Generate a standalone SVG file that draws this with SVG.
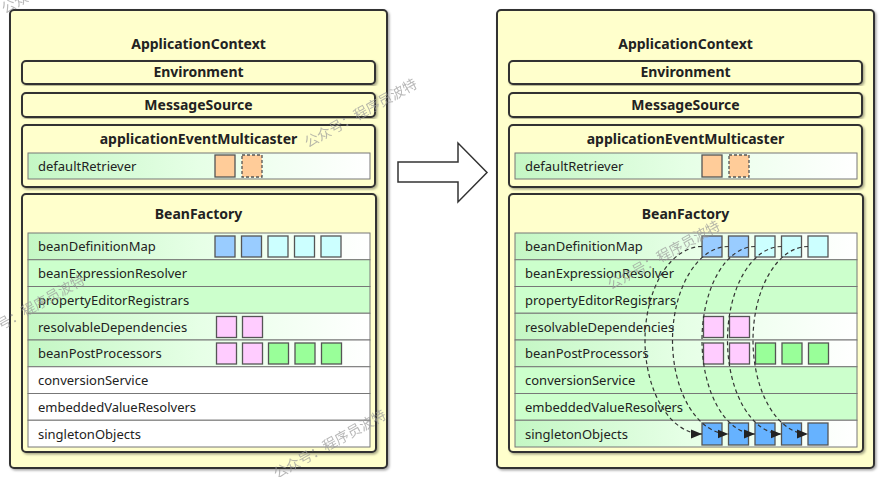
<svg xmlns="http://www.w3.org/2000/svg" width="881" height="477" viewBox="0 0 881 477">
<style>
.outer{fill:#ffffcc;stroke:#333;stroke-width:2;filter:url(#sh)}
.box{fill:#ffffcc;stroke:#333;stroke-width:2;filter:url(#sh)}
.title{font-family:"Noto Sans","Open Sans",sans-serif;font-weight:bold;font-size:14px;fill:#222;text-anchor:middle}
.lbl{font-family:"Noto Sans","Open Sans",sans-serif;font-size:13px;fill:#222}
.rg{fill:url(#gg);stroke:#777;stroke-width:1}
.rs{fill:#ccffcc;stroke:#777;stroke-width:1}
.rw{fill:#ffffff;stroke:#777;stroke-width:1}
.sq{stroke:#555;stroke-width:1.3}
.b1{fill:#99ccff}.b2{fill:#ccffff}.b3{fill:#66b2ff}.pk{fill:#ffccff}.gr{fill:#99ff99}.or{fill:#ffcc99}
.dsh{stroke-dasharray:3 2}
.arc{fill:none;stroke:#333;stroke-width:1.2;stroke-dasharray:4 3;marker-end:url(#ah)}
.big{fill:#fff;stroke:#333;stroke-width:1.5}
.wm{font-family:"Noto Sans CJK SC","Noto Sans",sans-serif;font-size:14px;fill:#9a9a9a;opacity:0.7}
</style>
<defs>
<linearGradient id="gg" x1="0" y1="0" x2="1" y2="0">
<stop offset="0" stop-color="#c4f7c4"/>
<stop offset="0.5" stop-color="#e6ffe6"/>
<stop offset="1" stop-color="#ffffff"/>
</linearGradient>
<filter id="sh" x="-5%" y="-5%" width="110%" height="110%">
<feDropShadow dx="1.5" dy="1.5" stdDeviation="0.8" flood-color="#000" flood-opacity="0.35"/>
</filter>
<marker id="ah" markerUnits="userSpaceOnUse" markerWidth="12" markerHeight="10" refX="11" refY="5" orient="auto">
<path d="M0,0.5 L11,5 L0,9.5 Z" fill="#222"/>
</marker>
</defs>

<!-- LEFT PANEL -->
<g id="left-applicationcontext">
<rect class="outer" x="10" y="10" width="377" height="458" rx="4"/>
<text class="title" x="198.5" y="49">ApplicationContext</text>
</g>
<g id="left-environment">
<rect class="box" x="22" y="61" width="353" height="23" rx="4"/>
<text class="title" x="198.5" y="77">Environment</text>
</g>
<g id="left-messagesource">
<rect class="box" x="22" y="93" width="353" height="24" rx="4"/>
<text class="title" x="198.5" y="110">MessageSource</text>
</g>
<g id="left-multicaster">
<rect class="box" x="22" y="125" width="353" height="62" rx="4"/>
<text class="title" x="198.5" y="144">applicationEventMulticaster</text>
<rect class="rg" x="28" y="153" width="342" height="26"/>
<text class="lbl" x="38" y="171">defaultRetriever</text>
<rect class="sq or" x="215" y="155" width="20" height="22"/>
<rect class="sq or dsh" x="242" y="155" width="20" height="22"/>
</g>
<g id="left-beanfactory">
<rect class="box" x="22" y="194" width="354" height="258" rx="4"/>
<text class="title" x="198.5" y="219">BeanFactory</text>
<rect class="rg" x="28" y="233" width="342" height="26.75"/>
<rect class="rs" x="28" y="259.75" width="342" height="26.75"/>
<rect class="rs" x="28" y="286.5" width="342" height="26.75"/>
<rect class="rg" x="28" y="313.25" width="342" height="26.75"/>
<rect class="rg" x="28" y="340" width="342" height="26.75"/>
<rect class="rw" x="28" y="366.75" width="342" height="26.75"/>
<rect class="rw" x="28" y="393.5" width="342" height="26.75"/>
<rect class="rw" x="28" y="420.25" width="342" height="26.75"/>
<text class="lbl" x="38" y="251">beanDefinitionMap</text>
<text class="lbl" x="38" y="278">beanExpressionResolver</text>
<text class="lbl" x="38" y="304.5">propertyEditorRegistrars</text>
<text class="lbl" x="38" y="331.5">resolvableDependencies</text>
<text class="lbl" x="38" y="358">beanPostProcessors</text>
<text class="lbl" x="38" y="385">conversionService</text>
<text class="lbl" x="38" y="411.5">embeddedValueResolvers</text>
<text class="lbl" x="38" y="438.5">singletonObjects</text>
<rect class="sq b1" x="215" y="236" width="20" height="21"/>
<rect class="sq b1" x="241.5" y="236" width="20" height="21"/>
<rect class="sq b2" x="268" y="236" width="20" height="21"/>
<rect class="sq b2" x="294.5" y="236" width="20" height="21"/>
<rect class="sq b2" x="321" y="236" width="20" height="21"/>
<rect class="sq pk" x="216.5" y="316.5" width="20" height="21"/>
<rect class="sq pk" x="242.5" y="316.5" width="20" height="21"/>
<rect class="sq pk" x="216.5" y="343" width="20" height="21"/>
<rect class="sq pk" x="242.5" y="343" width="20" height="21"/>
<rect class="sq gr" x="268.5" y="343" width="20" height="21"/>
<rect class="sq gr" x="295" y="343" width="20" height="21"/>
<rect class="sq gr" x="321.5" y="343" width="20" height="21"/>
</g>

<!-- BIG ARROW -->
<g id="transition-arrow">
<polygon class="big" points="398,162 458,162 458,143 487,172.5 458,202 458,182 398,182"/>
</g>

<!-- RIGHT PANEL -->
<g id="right-applicationcontext">
<rect class="outer" x="497" y="10" width="377" height="458" rx="4"/>
<text class="title" x="685.5" y="49">ApplicationContext</text>
</g>
<g id="right-environment">
<rect class="box" x="509" y="61" width="353" height="23" rx="4"/>
<text class="title" x="685.5" y="77">Environment</text>
</g>
<g id="right-messagesource">
<rect class="box" x="509" y="93" width="353" height="24" rx="4"/>
<text class="title" x="685.5" y="110">MessageSource</text>
</g>
<g id="right-multicaster">
<rect class="box" x="509" y="125" width="353" height="62" rx="4"/>
<text class="title" x="685.5" y="144">applicationEventMulticaster</text>
<rect class="rg" x="515" y="153" width="342" height="26"/>
<text class="lbl" x="525" y="171">defaultRetriever</text>
<rect class="sq or" x="702" y="155" width="20" height="22"/>
<rect class="sq or dsh" x="729" y="155" width="20" height="22"/>
</g>
<g id="right-beanfactory">
<rect class="box" x="509" y="194" width="354" height="258" rx="4"/>
<text class="title" x="685.5" y="219">BeanFactory</text>
<rect class="rg" x="515" y="233" width="342" height="26.75"/>
<rect class="rs" x="515" y="259.75" width="342" height="26.75"/>
<rect class="rs" x="515" y="286.5" width="342" height="26.75"/>
<rect class="rg" x="515" y="313.25" width="342" height="26.75"/>
<rect class="rg" x="515" y="340" width="342" height="26.75"/>
<rect class="rs" x="515" y="366.75" width="342" height="26.75"/>
<rect class="rs" x="515" y="393.5" width="342" height="26.75"/>
<rect class="rg" x="515" y="420.25" width="342" height="26.75"/>
<text class="lbl" x="525" y="251">beanDefinitionMap</text>
<text class="lbl" x="525" y="278">beanExpressionResolver</text>
<text class="lbl" x="525" y="304.5">propertyEditorRegistrars</text>
<text class="lbl" x="525" y="331.5">resolvableDependencies</text>
<text class="lbl" x="525" y="358">beanPostProcessors</text>
<text class="lbl" x="525" y="385">conversionService</text>
<text class="lbl" x="525" y="411.5">embeddedValueResolvers</text>
<text class="lbl" x="525" y="438.5">singletonObjects</text>
<rect class="sq b1" x="702" y="236" width="20" height="21"/>
<rect class="sq b1" x="728.5" y="236" width="20" height="21"/>
<rect class="sq b2" x="755" y="236" width="20" height="21"/>
<rect class="sq b2" x="781.5" y="236" width="20" height="21"/>
<rect class="sq b2" x="808" y="236" width="20" height="21"/>
<rect class="sq pk" x="703.5" y="316.5" width="20" height="21"/>
<rect class="sq pk" x="729.5" y="316.5" width="20" height="21"/>
<rect class="sq pk" x="703.5" y="343" width="20" height="21"/>
<rect class="sq pk" x="729.5" y="343" width="20" height="21"/>
<rect class="sq gr" x="755.5" y="343" width="20" height="21"/>
<rect class="sq gr" x="782" y="343" width="20" height="21"/>
<rect class="sq gr" x="808.5" y="343" width="20" height="21"/>
<rect class="sq b3" x="702" y="423" width="20" height="22"/>
<rect class="sq b3" x="728.5" y="423" width="20" height="22"/>
<rect class="sq b3" x="755" y="423" width="20" height="22"/>
<rect class="sq b3" x="781.5" y="423" width="20" height="22"/>
<rect class="sq b3" x="808" y="423" width="20" height="22"/>
</g>

<g id="connectors">
<path class="arc" d="M702,246.5 A57,93.75 0 0 0 702,434"/>
<path class="arc" d="M728.5,246.5 A56,93.75 0 0 0 728.5,434"/>
<path class="arc" d="M755,246.5 A53,93.75 0 0 0 755,434"/>
<path class="arc" d="M781.5,246.5 A54,93.75 0 0 0 781.5,434"/>
<path class="arc" d="M808,246.5 A55,93.75 0 0 0 808,434"/>
</g>

<g id="watermarks">
<text class="wm" transform="translate(5,14) rotate(-29)">公众号：程序员波特</text>
<text class="wm" transform="translate(308,148) rotate(-29)">公众号：程序员波特</text>
<text class="wm" text-anchor="end" transform="translate(86,283) rotate(-29)">公众号：程序员波特</text>
<text class="wm" transform="translate(277,479) rotate(-29)">公众号：程序员波特</text>
<text class="wm" transform="translate(611,290) rotate(-29)">公众号：程序员波特</text>
</g>
</svg>
